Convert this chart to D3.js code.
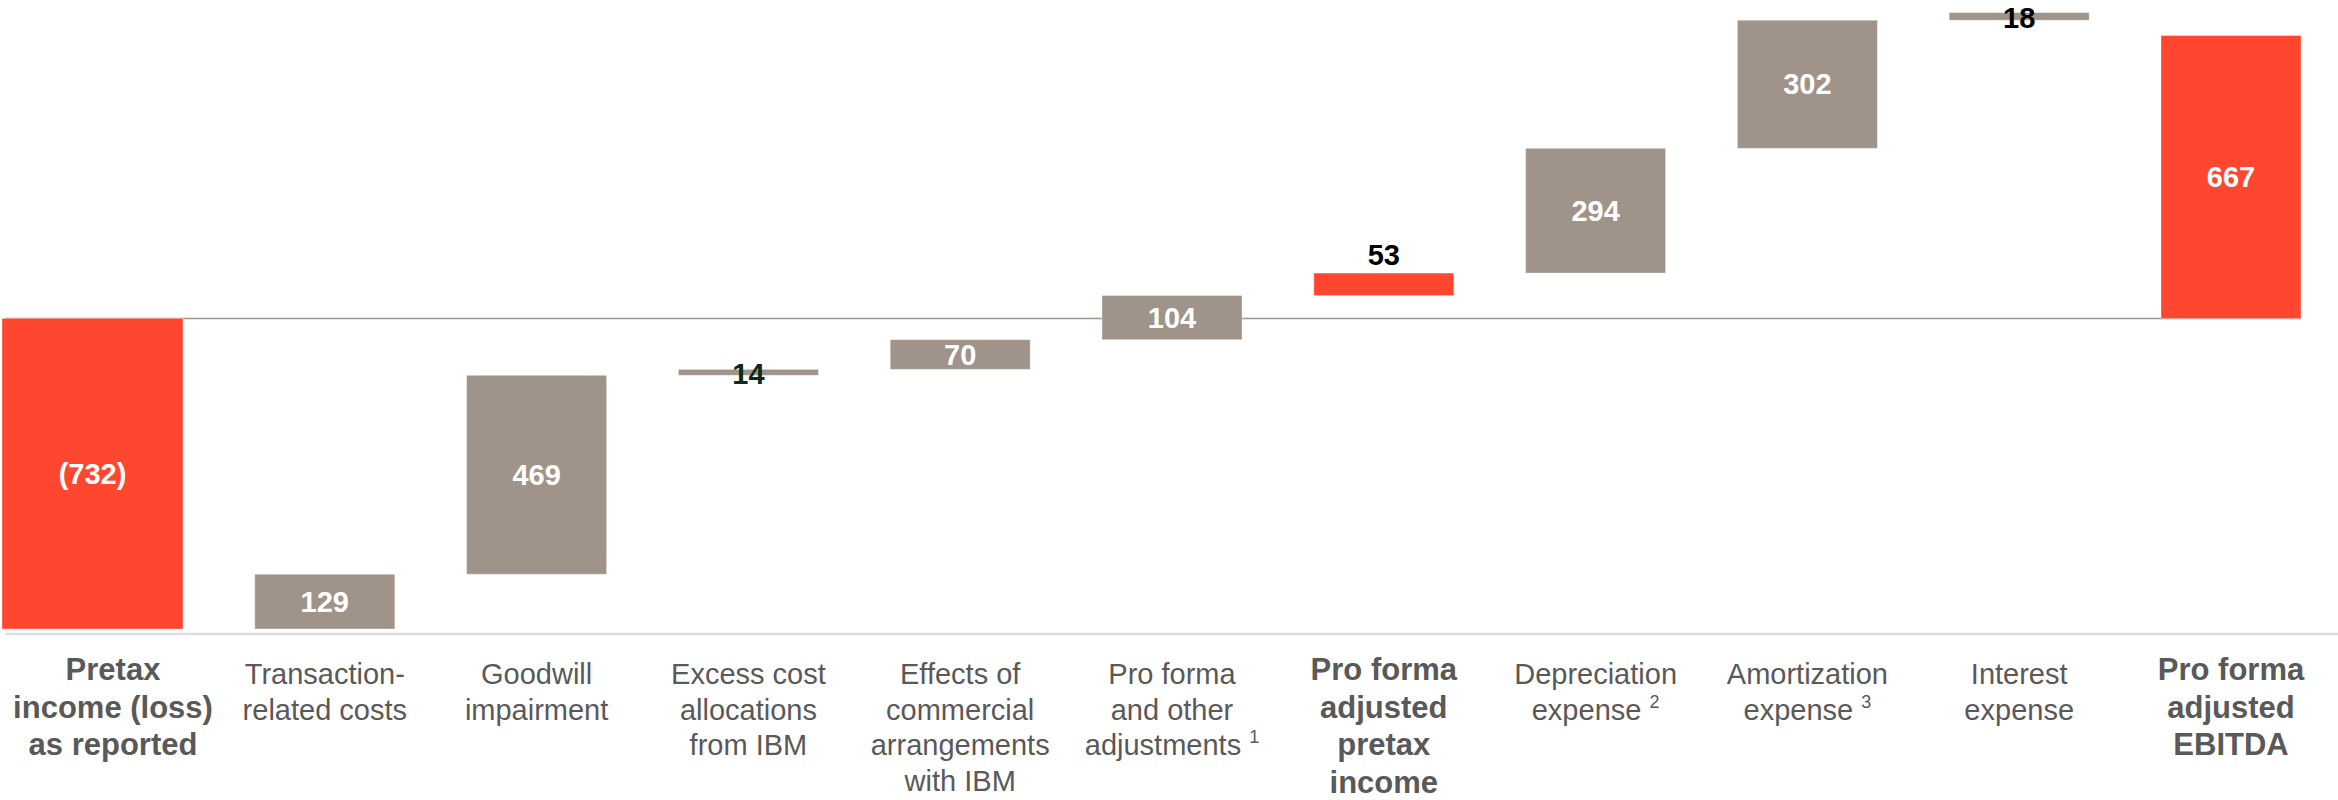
<!DOCTYPE html>
<html>
<head>
<meta charset="utf-8">
<script src="https://cdn.jsdelivr.net/npm/d3@7"></script>
<style>
  body { margin: 0; background: #ffffff; }
  svg { display: block; }
</style>
</head>
<body>
<div id="chart"></div>
<script>
// categories (one line per "\n")
var categories = [
    "Pretax\nincome (loss)\nas reported",
    "Transaction-\nrelated costs",
    "Goodwill\nimpairment",
    "Excess cost\nallocations\nfrom IBM",
    "Effects of\ncommercial\narrangements\nwith IBM",
    "Pro forma\nand other\nadjustments",
    "Pro forma\nadjusted\npretax\nincome",
    "Depreciation\nexpense",
    "Amortization\nexpense",
    "Interest\nexpense",
    "Pro forma\nadjusted\nEBITDA"
];
var footnotes = ["", "", "", "", "", "1", "", "2", "3", "", ""];
var values = [-732, 129, 469, 14, 70, 104, 53, 294, 302, 18, 667];
var valueLabels = ["(732)", "129", "469", "14", "70", "104", "53", "294", "302", "18", "667"];
// true = bar starts at zero, false = bar floats on the running total
var fromZero = [true, false, false, false, false, false, false, false, false, false, true];
// highlighted (red) columns
var highlight = [true, false, false, false, false, false, true, false, false, false, true];

var width = 2338, height = 800;
var plotLeft = 2;
var red = "#ff4730", grey = "#a09389";

var svg = d3.select("#chart").append("svg")
    .attr("width", width)
    .attr("height", height);

// running totals
var bars = [];
var run = 0;
values.forEach(function(v, i) {
    var start = fromZero[i] ? 0 : run;
    var end = start + v;
    bars.push({ i: i, start: start, end: end, value: v });
    run = end;
});

var x = d3.scaleBand()
    .domain(d3.range(categories.length))
    .range([43, 2301])
    .paddingInner(0.339)
    .paddingOuter(0);

var y = d3.scaleLinear()
    .domain([-732, 667])
    .range([629, 35.5]);

// first bar runs out to the left edge of the plot
function barLeft(i) { return i == 0 ? plotLeft : x(i); }
function barWidth(i) { return i == 0 ? x(0) + x.bandwidth() - plotLeft : x.bandwidth(); }

// zero line
svg.append("line")
    .attr("x1", 5).attr("x2", 2301)
    .attr("y1", y(0)).attr("y2", y(0))
    .attr("stroke", "#a29488")
    .attr("stroke-width", 1.5);

// line under the bars
svg.append("line")
    .attr("x1", 5).attr("x2", width)
    .attr("y1", 634).attr("y2", 634)
    .attr("stroke", "#dedede")
    .attr("stroke-width", 2.5);

svg.append("g")
    .selectAll("rect")
    .data(bars)
    .enter().append("rect")
    .attr("x", function(d) { return barLeft(d.i); })
    .attr("width", function(d) { return barWidth(d.i); })
    .attr("y", function(d) { return y(Math.max(d.start, d.end)); })
    .attr("height", function(d) { return Math.abs(y(d.start) - y(d.end)); })
    .attr("fill", function(d) { return highlight[d.i] ? red : grey; })
    .attr("stroke", "rgba(255,255,255,0.35)")
    .attr("stroke-width", 1);

// value labels
svg.append("g")
    .selectAll("text")
    .data(bars)
    .enter().append("text")
    .attr("x", function(d) { return barLeft(d.i) + barWidth(d.i) / 2; })
    .attr("y", function(d) {
        var top = y(Math.max(d.start, d.end));
        var h = Math.abs(y(d.start) - y(d.end));
        if (h < 12) return top + h / 2 + 12;     // sits on the thin bar
        if (h < 25) return top - 8;              // above the bar
        return top + h / 2 + 10;
    })
    .attr("text-anchor", "middle")
    .style("font-family", "'Liberation Sans', Arial, sans-serif")
    .style("font-weight", "bold")
    .style("font-size", "29px")
    .attr("fill", function(d) {
        var h = Math.abs(y(d.start) - y(d.end));
        if (h >= 25) return "#ffffff";
        if (h < 12 && d.end < 0) return "#0b2a1c";
        return "#000000";
    })
    .text(function(d) { return valueLabels[d.i]; });

// category labels
var labelG = svg.append("g");
categories.forEach(function(c, i) {
    var bold = highlight[i];
    var lines = c.split("\n");
    var fs = bold ? 31 : 29;
    var lh = bold ? 37.5 : 35.5;
    var y0 = bold ? 680 : 684;
    var cx = x(i) + x.bandwidth() / 2;
    var t = labelG.append("text")
        .attr("text-anchor", "middle")
        .attr("transform", "translate(" + cx + ",0)")
        .style("font-family", "'Liberation Sans', Arial, sans-serif")
        .style("font-weight", bold ? "bold" : "normal")
        .style("font-size", fs + "px")
        .attr("fill", "#595959");
    lines.forEach(function(l, k) {
        var ts = t.append("tspan")
            .attr("x", 0)
            .attr("y", y0 + k * lh)
            .text(l);
        if (k == lines.length - 1 && footnotes[i]) {
            ts.append("tspan").text(" ");
            ts.append("tspan")
                .attr("dy", -12)
                .style("font-size", "18px")
                .text(footnotes[i]);
        }
    });
    // keep the first label inside the page
    var bb = t.node().getBBox();
    if (cx + bb.x < 8) {
        t.attr("transform", "translate(" + (8 - bb.x) + ",0)");
    }
});
</script>
</body>
</html>
